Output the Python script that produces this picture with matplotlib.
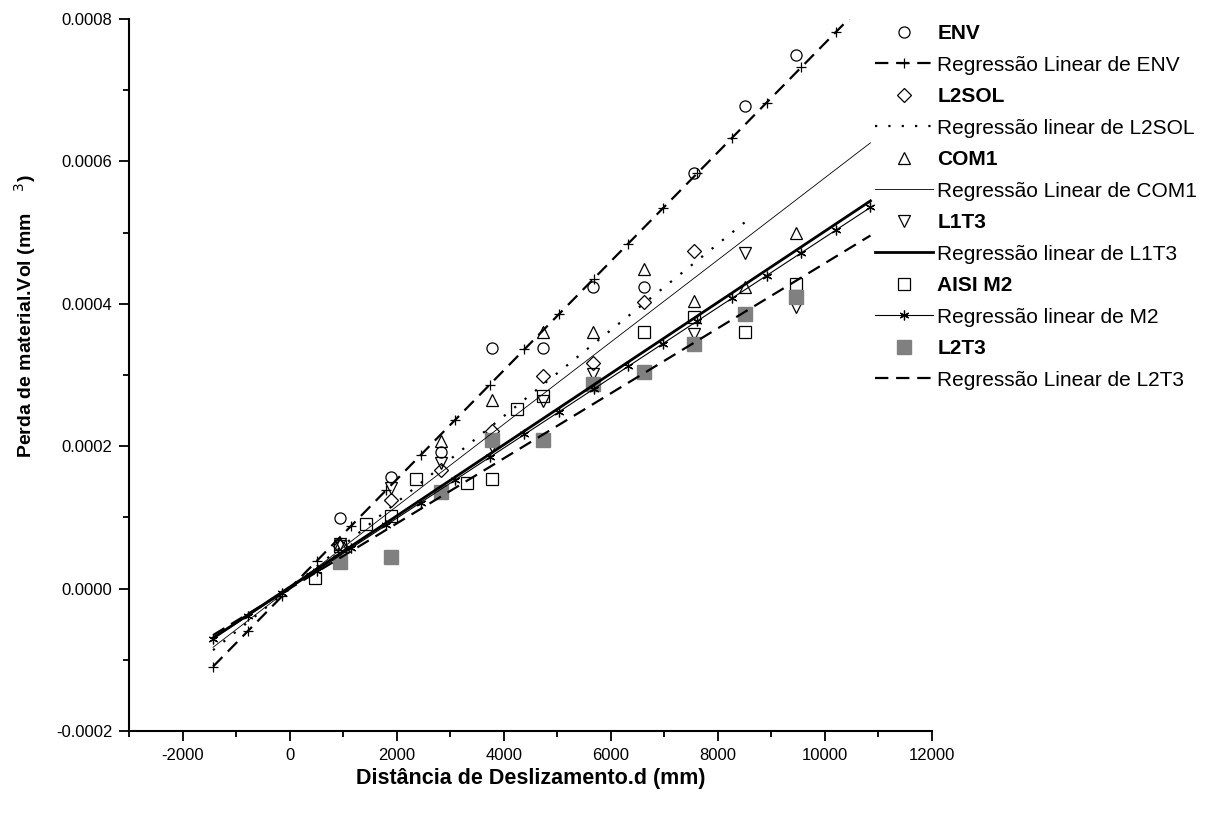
import numpy as np
import matplotlib
matplotlib.use('Agg')
import matplotlib.pyplot as plt
from matplotlib.lines import Line2D
from matplotlib.ticker import MultipleLocator, FormatStrFormatter

plt.rcParams['font.family'] = ['Liberation Sans', 'DejaVu Sans']
plt.rcParams['axes.unicode_minus'] = False

# measured points (sliding distance in mm, volume loss in mm^3)
env_x = [945, 1890, 2835, 3780, 4725, 5670, 6615, 7560, 8505, 9450]
env_y = [0.0000995, 0.000156, 0.000192, 0.0003375, 0.0003375, 0.000423, 0.000423, 0.000584, 0.000678, 0.000749]

l2sol_x = [945, 1890, 2835, 3780, 4725, 5670, 6615, 7560]
l2sol_y = [0.00006, 0.000125, 0.000166, 0.000222, 0.000299, 0.000317, 0.000402, 0.000474]

com1_x = [945, 2835, 3780, 4725, 5670, 6615, 7560, 8505, 9450]
com1_y = [0.000062, 0.000207, 0.000265, 0.00036, 0.00036, 0.000449, 0.000404, 0.000424, 0.0005]

l1t3_x = [945, 1890, 2835, 3780, 4725, 5670, 7560, 8505, 9450]
l1t3_y = [0.0000628, 0.000141, 0.000176, 0.0002, 0.000264, 0.0003015, 0.000358, 0.000472, 0.000395]

m2_x = [473, 945, 1418, 1890, 2363, 3308, 3780, 4253, 4725, 6615, 7560, 8505, 9450]
m2_y = [0.000015, 0.00006, 0.00009, 0.000102, 0.000154, 0.000148, 0.000154, 0.000252, 0.000271,
        0.000361, 0.000382, 0.000361, 0.000428]

l2t3_x = [945, 1890, 2835, 3780, 4725, 5670, 6615, 7560, 8505, 9450]
l2t3_y = [0.000037, 0.000045, 0.000136, 0.000208, 0.000208, 0.000287, 0.000304, 0.000344, 0.000385, 0.000409]

# linear regression coefficients (slope, intercept) and x span of each fitted line
env_fit = (7.66e-8, 0.0, -1430, 10850)
l2sol_fit = (6.05e-8, 0.0, -1430, 8610)
com1_fit = (5.77e-8, 0.0, -1430, 10850)
l1t3_fit = (5.0e-8, 0.000002, -1430, 10850)
m2_fit = (4.934e-8, 0.0, -1430, 10850)
l2t3_fit = (4.57e-8, 0.0, -1430, 10850)


def fit_line(fit, n=20):
    slope, icpt, x0, x1 = fit
    xs = np.linspace(x0, x1, n)
    return xs, icpt + slope * xs


asterisk = (6, 2, 0)
gray = '#808080'

fig = plt.figure(figsize=(12.09, 8.14), dpi=100)
ax = fig.add_axes([0.1067, 0.102, 0.6642, 0.8747])

ms = 8
ax.plot(env_x, env_y, 'o', ms=ms, mfc='none', mec='black', mew=0.9, zorder=2)
ax.plot(l2sol_x, l2sol_y, 'D', ms=7, mfc='none', mec='black', mew=0.9, zorder=2)
ax.plot(com1_x, com1_y, '^', ms=ms + 1, mfc='none', mec='black', mew=0.9, zorder=2)
ax.plot(l1t3_x, l1t3_y, 'v', ms=ms + 1, mfc='none', mec='black', mew=0.9, zorder=2)
ax.plot(m2_x, m2_y, 's', ms=ms, mfc='none', mec='black', mew=0.9, zorder=2)
ax.plot(l2t3_x, l2t3_y, 's', ms=9.5, mfc=gray, mec=gray, zorder=2)

x, y = fit_line(env_fit)
ax.plot(x, y, color='black', lw=1.6, ls=(0, (6, 3.5)), marker='+', ms=7, mew=0.9, zorder=3)
x, y = fit_line(l2sol_fit)
ax.plot(x, y, color='black', lw=1.6, ls=(0, (1, 5)), zorder=3)
x, y = fit_line(com1_fit)
ax.plot(x, y, color='black', lw=0.6, zorder=3)
x, y = fit_line(l1t3_fit)
ax.plot(x, y, color='black', lw=2.0, zorder=3)
x, y = fit_line(m2_fit)
ax.plot(x, y, color='black', lw=0.8, marker=asterisk, ms=7, mew=0.9, zorder=3)
x, y = fit_line(l2t3_fit)
ax.plot(x, y, color='black', lw=1.6, ls=(0, (6, 3.5)), zorder=3)

ax.set_xlim(-3000, 12000)
ax.set_ylim(-0.0002, 0.0008)
ax.xaxis.set_major_locator(MultipleLocator(2000))
ax.xaxis.set_minor_locator(MultipleLocator(1000))
ax.yaxis.set_major_locator(MultipleLocator(0.0002))
ax.yaxis.set_minor_locator(MultipleLocator(0.0001))
ax.yaxis.set_major_formatter(FormatStrFormatter('%.4f'))
ax.tick_params(which='major', direction='out', length=7, width=1.3, labelsize=12, pad=5)
ax.tick_params(which='minor', direction='out', length=4, width=1.3)
for s in ['top', 'right']:
    ax.spines[s].set_visible(False)
for s in ['left', 'bottom']:
    ax.spines[s].set_linewidth(1.5)

ax.set_xlabel('Distância de Deslizamento.d (mm)', fontsize=15.5, fontweight='bold', labelpad=4)
ax.set_ylabel('Perda de material.Vol (mm    $^{3}$)', fontsize=14, fontweight='bold')
ax.yaxis.set_label_coords(-0.113, 0.583)

handles = [
    Line2D([], [], ls='none', marker='o', ms=ms, mfc='none', mec='black', mew=0.9),
    Line2D([], [], color='black', lw=1.6, ls=(0, (6, 3.5)), marker='+', ms=7, mew=0.9),
    Line2D([], [], ls='none', marker='D', ms=7, mfc='none', mec='black', mew=0.9),
    Line2D([], [], color='black', lw=1.6, ls=(0, (1, 5))),
    Line2D([], [], ls='none', marker='^', ms=ms + 1, mfc='none', mec='black', mew=0.9),
    Line2D([], [], color='black', lw=0.6),
    Line2D([], [], ls='none', marker='v', ms=ms + 1, mfc='none', mec='black', mew=0.9),
    Line2D([], [], color='black', lw=2.0),
    Line2D([], [], ls='none', marker='s', ms=ms, mfc='none', mec='black', mew=0.9),
    Line2D([], [], color='black', lw=0.8, marker=asterisk, ms=7, mew=0.9),
    Line2D([], [], ls='none', marker='s', ms=9.5, mfc=gray, mec=gray),
    Line2D([], [], color='black', lw=1.6, ls=(0, (6, 3.5))),
]
labels = ['ENV', 'Regressão Linear de ENV', 'L2SOL', 'Regressão linear de L2SOL',
          'COM1', 'Regressão Linear de COM1', 'L1T3', 'Regressão linear de L1T3',
          'AISI M2', 'Regressão linear de M2', 'L2T3', 'Regressão Linear de L2T3']
leg = fig.legend(handles, labels, loc='upper left', bbox_to_anchor=(0.708, 0.9935),
                 frameon=False, fontsize=15, handlelength=2.8, handletextpad=0.2,
                 labelspacing=0.6, numpoints=1)
for i, t in enumerate(leg.get_texts()):
    if i % 2 == 0:
        t.set_fontweight('bold')

plt.savefig('out.png', dpi=100)
